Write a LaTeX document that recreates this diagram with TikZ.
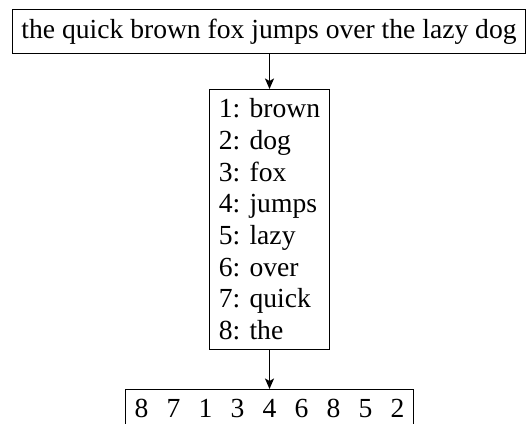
\documentclass[tikz,border=0pt]{standalone}
\usepackage{fontspec}
\setmainfont{Liberation Serif}
\usetikzlibrary{arrows.meta}
\newcommand\dgap{\hspace{18.2pt}}
\begin{document}
\begin{tikzpicture}[x=1pt,y=1pt,
  box/.style={draw, line width=1.2pt, inner sep=9.2pt,
    font=\fontsize{27.6pt}{31.67pt}\selectfont},
  arr/.style={-{Stealth[length=10.5pt,width=9pt,inset=2.5pt]}, line width=1.5pt}]
\useasboundingbox (0,0) rectangle (532,-423);
\node[box, anchor=north] (sentence) at (269,-9) {the quick brown fox jumps over the lazy dog};
\node[box, anchor=north, align=left] (dict) at (269.5,-89)
  {1: brown\\2: dog\\3: fox\\4: jumps\\5: lazy\\6: over\\7: quick\\8: the};
\node[box, anchor=north] (codes) at (269.5,-389)
  {8\dgap 7\dgap 1\dgap 3\dgap 4\dgap 6\dgap 8\dgap 5\dgap 2};
\draw[arr] (sentence.south -| dict.north) -- (dict.north);
\draw[arr] (dict.south) -- (codes.north);
\end{tikzpicture}
\end{document}
